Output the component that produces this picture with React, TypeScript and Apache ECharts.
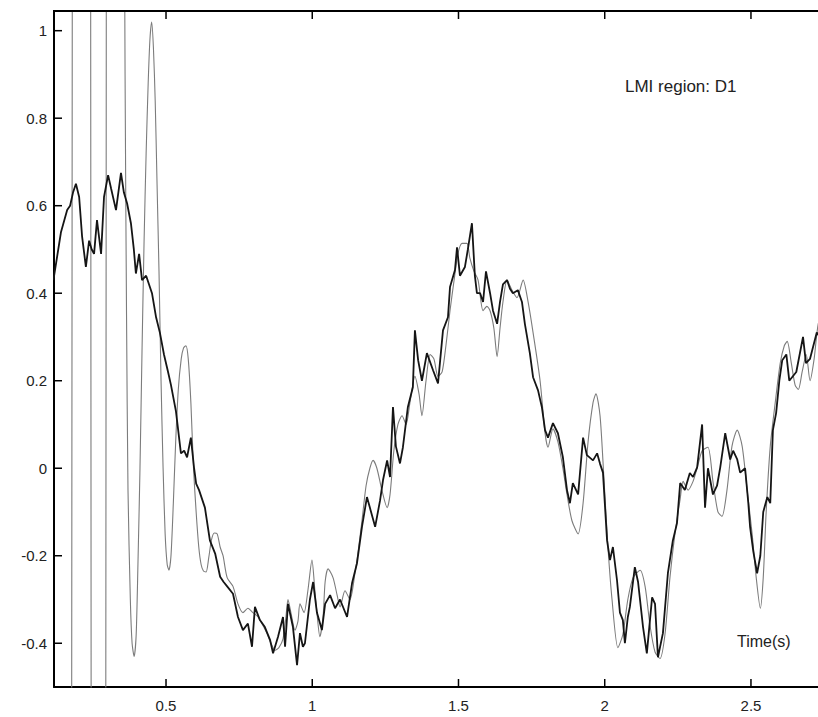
import React, { useEffect, useRef } from "react";
import * as echarts from "echarts";

// Black (noisy) trace: time (s) and value
const blackTime = [
  0.115, 0.141, 0.162, 0.172, 0.182, 0.192, 0.203, 0.213, 0.226, 0.237,
  0.246, 0.254, 0.264, 0.278, 0.288, 0.302, 0.312, 0.329, 0.346, 0.356,
  0.367, 0.380, 0.390, 0.397, 0.408, 0.418, 0.432, 0.442, 0.452, 0.466,
  0.479, 0.493, 0.507, 0.517, 0.534, 0.551, 0.562, 0.572, 0.585, 0.596,
  0.603, 0.613, 0.623, 0.633, 0.650, 0.668, 0.685, 0.697, 0.709, 0.729,
  0.746, 0.763, 0.780, 0.794, 0.804, 0.821, 0.838, 0.856, 0.866, 0.883,
  0.900, 0.907, 0.917, 0.934, 0.948, 0.958, 0.968, 0.975, 0.992, 1.003,
  1.016, 1.033, 1.044, 1.061, 1.078, 1.095, 1.119, 1.136, 1.153, 1.170,
  1.187, 1.197, 1.215, 1.232, 1.242, 1.256, 1.266, 1.276, 1.286, 1.300,
  1.310, 1.327, 1.344, 1.351, 1.362, 1.375, 1.392, 1.413, 1.430, 1.447,
  1.464, 1.471, 1.488, 1.495, 1.505, 1.522, 1.532, 1.546, 1.556, 1.563,
  1.574, 1.584, 1.594, 1.608, 1.618, 1.632, 1.642, 1.652, 1.666, 1.676,
  1.686, 1.703, 1.717, 1.727, 1.744, 1.755, 1.772, 1.785, 1.796, 1.806,
  1.823, 1.840, 1.857, 1.871, 1.881, 1.891, 1.909, 1.926, 1.939, 1.960,
  1.974, 1.984, 1.994, 2.008, 2.018, 2.028, 2.042, 2.052, 2.062, 2.069,
  2.079, 2.086, 2.103, 2.114, 2.131, 2.144, 2.162, 2.172, 2.182, 2.199,
  2.216, 2.233, 2.247, 2.258, 2.274, 2.291, 2.302, 2.316, 2.333, 2.343,
  2.353, 2.370, 2.384, 2.395, 2.412, 2.429, 2.439, 2.453, 2.463, 2.480,
  2.491, 2.497, 2.508, 2.521, 2.532, 2.542, 2.556, 2.566, 2.575, 2.586,
  2.597, 2.607, 2.621, 2.631, 2.655, 2.678, 2.688, 2.702, 2.725, 2.745,
];
const blackValue = [
  0.43, 0.54, 0.59, 0.60, 0.63, 0.65, 0.62, 0.53, 0.46, 0.52,
  0.50, 0.49, 0.567, 0.49, 0.62, 0.67, 0.64, 0.59, 0.675, 0.63,
  0.605, 0.56, 0.50, 0.445, 0.49, 0.43, 0.44, 0.42, 0.40, 0.345,
  0.31, 0.26, 0.22, 0.19, 0.13, 0.034, 0.04, 0.025, 0.07, 0.0,
  -0.035, -0.05, -0.07, -0.09, -0.165, -0.195, -0.248, -0.26, -0.27, -0.287,
  -0.34, -0.37, -0.355, -0.408, -0.317, -0.347, -0.363, -0.393, -0.423, -0.385,
  -0.34, -0.408, -0.31, -0.363, -0.45, -0.377, -0.408, -0.40, -0.30, -0.26,
  -0.33, -0.37, -0.31, -0.29, -0.32, -0.30, -0.34, -0.263, -0.217, -0.134,
  -0.066, -0.09, -0.134, -0.073, -0.027, 0.018, -0.02, 0.14, 0.05, 0.011,
  0.048, 0.14, 0.185, 0.315, 0.247, 0.2, 0.263, 0.224, 0.194, 0.315,
  0.345, 0.414, 0.453, 0.505, 0.44, 0.46, 0.50, 0.56, 0.44, 0.40,
  0.40, 0.38, 0.45, 0.40, 0.36, 0.33, 0.38, 0.42, 0.43, 0.41,
  0.40, 0.407, 0.38, 0.33, 0.263, 0.208, 0.178, 0.14, 0.087, 0.07,
  0.103, 0.08, 0.025, -0.05, -0.08, -0.034, -0.06, 0.07, 0.03, 0.018,
  0.034, 0.01, -0.01, -0.165, -0.21, -0.18, -0.256, -0.33, -0.347, -0.40,
  -0.34, -0.317, -0.226, -0.26, -0.363, -0.423, -0.295, -0.31, -0.432, -0.377,
  -0.24, -0.165, -0.126, -0.034, -0.05, -0.011, -0.02, 0.002, 0.1, -0.09,
  0.0, -0.06, -0.04, 0.002, 0.08, 0.02, 0.04, 0.02, -0.01, 0.0,
  -0.08, -0.134, -0.19, -0.24, -0.2, -0.1, -0.066, -0.08, 0.087, 0.126,
  0.2, 0.247, 0.26, 0.2, 0.22, 0.3, 0.24, 0.25, 0.31, 0.29,
];

// Grey (smooth, oscillating) trace: time (s) and value
const greyTime = [
  0.115, 0.15, 0.17, 0.18, 0.19, 0.21, 0.232, 0.243, 0.252, 0.268,
  0.285, 0.295, 0.305, 0.325, 0.345, 0.354, 0.36, 0.365, 0.37, 0.378,
  0.384, 0.391, 0.398, 0.404, 0.411, 0.418, 0.425, 0.432, 0.439, 0.445,
  0.451, 0.457, 0.463, 0.469, 0.476, 0.483, 0.49, 0.497, 0.504, 0.51,
  0.517, 0.525, 0.533, 0.542, 0.552, 0.56, 0.568, 0.576, 0.585, 0.594,
  0.603, 0.612, 0.62, 0.628, 0.637, 0.646, 0.655, 0.665, 0.675, 0.685,
  0.695, 0.709, 0.729, 0.746, 0.763, 0.780, 0.797, 0.815, 0.832, 0.845,
  0.859, 0.873, 0.886, 0.900, 0.910, 0.917, 0.927, 0.941, 0.951, 0.958,
  0.972, 0.985, 0.999, 1.009, 1.016, 1.026, 1.037, 1.044, 1.054, 1.071,
  1.085, 1.095, 1.112, 1.129, 1.146, 1.156, 1.170, 1.184, 1.197, 1.208,
  1.221, 1.238, 1.256, 1.266, 1.279, 1.293, 1.307, 1.321, 1.334, 1.351,
  1.365, 1.375, 1.389, 1.403, 1.416, 1.430, 1.444, 1.457, 1.471, 1.485,
  1.498, 1.512, 1.529, 1.539, 1.553, 1.567, 1.584, 1.597, 1.608, 1.621,
  1.632, 1.642, 1.652, 1.666, 1.683, 1.700, 1.721, 1.738, 1.755, 1.779,
  1.796, 1.806, 1.823, 1.840, 1.857, 1.871, 1.888, 1.909, 1.926, 1.943,
  1.960, 1.970, 1.984, 1.997, 2.011, 2.025, 2.045, 2.062, 2.079, 2.097,
  2.121, 2.138, 2.155, 2.172, 2.189, 2.206, 2.223, 2.240, 2.258, 2.268,
  2.285, 2.302, 2.316, 2.333, 2.353, 2.370, 2.387, 2.401, 2.418, 2.435,
  2.453, 2.470, 2.487, 2.504, 2.518, 2.532, 2.542, 2.552, 2.566, 2.583,
  2.600, 2.614, 2.624, 2.638, 2.651, 2.662, 2.675, 2.689, 2.702, 2.716,
  2.73, 2.745,
];
const greyValue = [
  -9, -15, -6, 1.5, 9, 14, 9, 0.5, -8, -13,
  -8, 0.3, 8, 12, 8, 2.0, 0.9, 0.35, -0.05, -0.3,
  -0.4, -0.43, -0.38, -0.22, 0.0, 0.27, 0.52, 0.72, 0.88, 0.98,
  1.02, 0.96, 0.84, 0.66, 0.45, 0.2, 0.0, -0.15, -0.22, -0.233,
  -0.2, -0.08, 0.06, 0.18, 0.25, 0.275, 0.28, 0.25, 0.15, 0.0,
  -0.1, -0.18, -0.22, -0.235, -0.237, -0.205, -0.165, -0.148, -0.15, -0.18,
  -0.2, -0.25, -0.27, -0.31, -0.33, -0.32, -0.33, -0.34, -0.36, -0.377,
  -0.40, -0.416, -0.41, -0.39, -0.34, -0.30, -0.33, -0.37, -0.35, -0.31,
  -0.33, -0.28, -0.21, -0.28, -0.33, -0.385, -0.34, -0.26, -0.23, -0.25,
  -0.29, -0.317, -0.28, -0.30, -0.24, -0.195, -0.12, -0.04, 0.0, 0.018,
  0.0, -0.05, -0.09, -0.06, 0.04, 0.10, 0.12, 0.10, 0.15, 0.21,
  0.17, 0.12, 0.2, 0.26, 0.25, 0.21, 0.22, 0.28, 0.36, 0.43,
  0.49, 0.514, 0.514, 0.48, 0.45, 0.43, 0.36, 0.37, 0.36, 0.32,
  0.255, 0.32, 0.38, 0.43, 0.407, 0.39, 0.43, 0.38, 0.31, 0.2,
  0.08, 0.048, 0.09, 0.06, 0.0, -0.06, -0.12, -0.15, -0.08, 0.06,
  0.15, 0.17, 0.12, -0.02, -0.18, -0.3, -0.41, -0.38, -0.3, -0.25,
  -0.233, -0.27, -0.36, -0.42, -0.435, -0.38, -0.25, -0.15, -0.07, -0.03,
  -0.05, -0.03, 0.0, 0.04, 0.048, -0.03, -0.1, -0.11, -0.05, 0.05,
  0.087, 0.05, -0.05, -0.15, -0.25, -0.32, -0.25, -0.1, 0.05, 0.15,
  0.24, 0.28, 0.29, 0.24, 0.19, 0.18, 0.22, 0.26, 0.2, 0.25,
  0.33, 0.35,
];

const xTicks = [0.5, 1, 1.5, 2, 2.5];
const yTicks = [-0.4, -0.2, 0, 0.2, 0.4, 0.6, 0.8, 1];
const xRange = [0.117, 2.76];
const yRange = [-0.5, 1.045];
const annotationText = "LMI region: D1";
const xTitleText = "Time(s)";

const zip = (t: number[], v: number[]) => {
  const n = Math.min(t.length, v.length);
  const out: number[][] = [];
  for (let i = 0; i < n; i++) out.push([t[i], v[i]]);
  return out;
};

const TICK_LEN = 8;
const tickStyle = { stroke: "#000", lineWidth: 1.5 };

export default function App() {
  const ref = useRef<HTMLDivElement>(null);
  useEffect(() => {
    if (!ref.current) return;
    const chart = echarts.init(ref.current, null, { renderer: "svg" });
    const font = "Liberation Sans";
    const mkLine = () => ({ show: true, onZero: false, lineStyle: { color: "#000", width: 2 } });
    chart.setOption({
      animation: false,
      backgroundColor: "#fff",
      title: {
        text: annotationText,
        left: 625,
        top: 78,
        padding: 0,
        textStyle: { fontSize: 17, fontWeight: "normal", color: "#222", fontFamily: font },
      },
      grid: { left: 54, top: 11, right: 13, bottom: 30 },
      xAxis: [
        {
          type: "value",
          min: xRange[0],
          max: xRange[1],
          position: "bottom",
          axisLine: mkLine(),
          axisTick: { show: false },
          axisLabel: {
            show: true,
            showMinLabel: false,
            showMaxLabel: false,
            color: "#222",
            fontSize: 15,
            fontFamily: font,
            margin: 11,
          },
          splitLine: { show: false },
        },
        {
          type: "value",
          min: xRange[0],
          max: xRange[1],
          position: "top",
          axisLine: mkLine(),
          axisTick: { show: false },
          axisLabel: { show: false },
          splitLine: { show: false },
        },
      ],
      yAxis: [
        {
          type: "value",
          min: yRange[0],
          max: yRange[1],
          splitNumber: 8,
          position: "left",
          axisLine: mkLine(),
          axisTick: { show: false },
          axisLabel: {
            show: true,
            showMinLabel: false,
            showMaxLabel: false,
            color: "#222",
            fontSize: 15,
            fontFamily: font,
            margin: 7,
          },
          splitLine: { show: false },
        },
      ],
      series: [
        {
          type: "line",
          name: "grey",
          data: zip(greyTime, greyValue),
          xAxisIndex: 1,
          symbol: "none",
          smooth: 0.25,
          lineStyle: { color: "#7c7c7c", width: 1.1 },
        },
        {
          type: "line",
          name: "black",
          data: zip(blackTime, blackValue),
          xAxisIndex: 0,
          symbol: "none",
          lineStyle: { color: "#151515", width: 1.8 },
        },
        {
          // x-axis tick marks (bottom and top, pointing inward)
          type: "custom",
          name: "xticks",
          xAxisIndex: 0,
          yAxisIndex: 0,
          z: 10,
          silent: true,
          data: xTicks.map((v) => [v, yRange[0]]),
          renderItem: (params: any, api: any) => {
            const v = api.value(0);
            const b = api.coord([v, yRange[0]]);
            const t = api.coord([v, yRange[1]]);
            return {
              type: "group",
              children: [
                { type: "line", shape: { x1: b[0], y1: b[1], x2: b[0], y2: b[1] - TICK_LEN }, style: tickStyle },
                { type: "line", shape: { x1: t[0], y1: t[1], x2: t[0], y2: t[1] + TICK_LEN }, style: tickStyle },
              ],
            };
          },
        },
        {
          // y-axis tick marks (left, pointing inward)
          type: "custom",
          name: "yticks",
          xAxisIndex: 0,
          yAxisIndex: 0,
          z: 10,
          silent: true,
          data: yTicks.map((v) => [xRange[0], v]),
          renderItem: (params: any, api: any) => {
            const v = api.value(1);
            const p = api.coord([xRange[0], v]);
            return {
              type: "line",
              shape: { x1: p[0], y1: p[1], x2: p[0] + TICK_LEN, y2: p[1] },
              style: tickStyle,
            };
          },
        },
        {
          // top frame line
          type: "custom",
          name: "frame",
          xAxisIndex: 0,
          yAxisIndex: 0,
          z: 10,
          silent: true,
          data: [[xRange[0], yRange[1]]],
          renderItem: (params: any, api: any) => {
            const a = api.coord([xRange[0], yRange[1]]);
            const b = api.coord([xRange[1], yRange[1]]);
            return {
              type: "line",
              shape: { x1: a[0] - 1, y1: a[1], x2: b[0], y2: b[1] },
              style: { stroke: "#000", lineWidth: 2 },
            };
          },
        },
      ],
      graphic: [
        {
          type: "text",
          left: 737,
          top: 633,
          style: { text: xTitleText, fontSize: 16, fill: "#222", fontFamily: font },
        },
      ],
    });
    return () => chart.dispose();
  }, []);
  return (
    <div
      style={{
        position: "fixed",
        left: 0,
        top: 0,
        width: 818,
        height: 717,
        overflow: "hidden",
        background: "#fff",
      }}
    >
      <div ref={ref} style={{ width: 840, height: 717 }} />
    </div>
  );
}
